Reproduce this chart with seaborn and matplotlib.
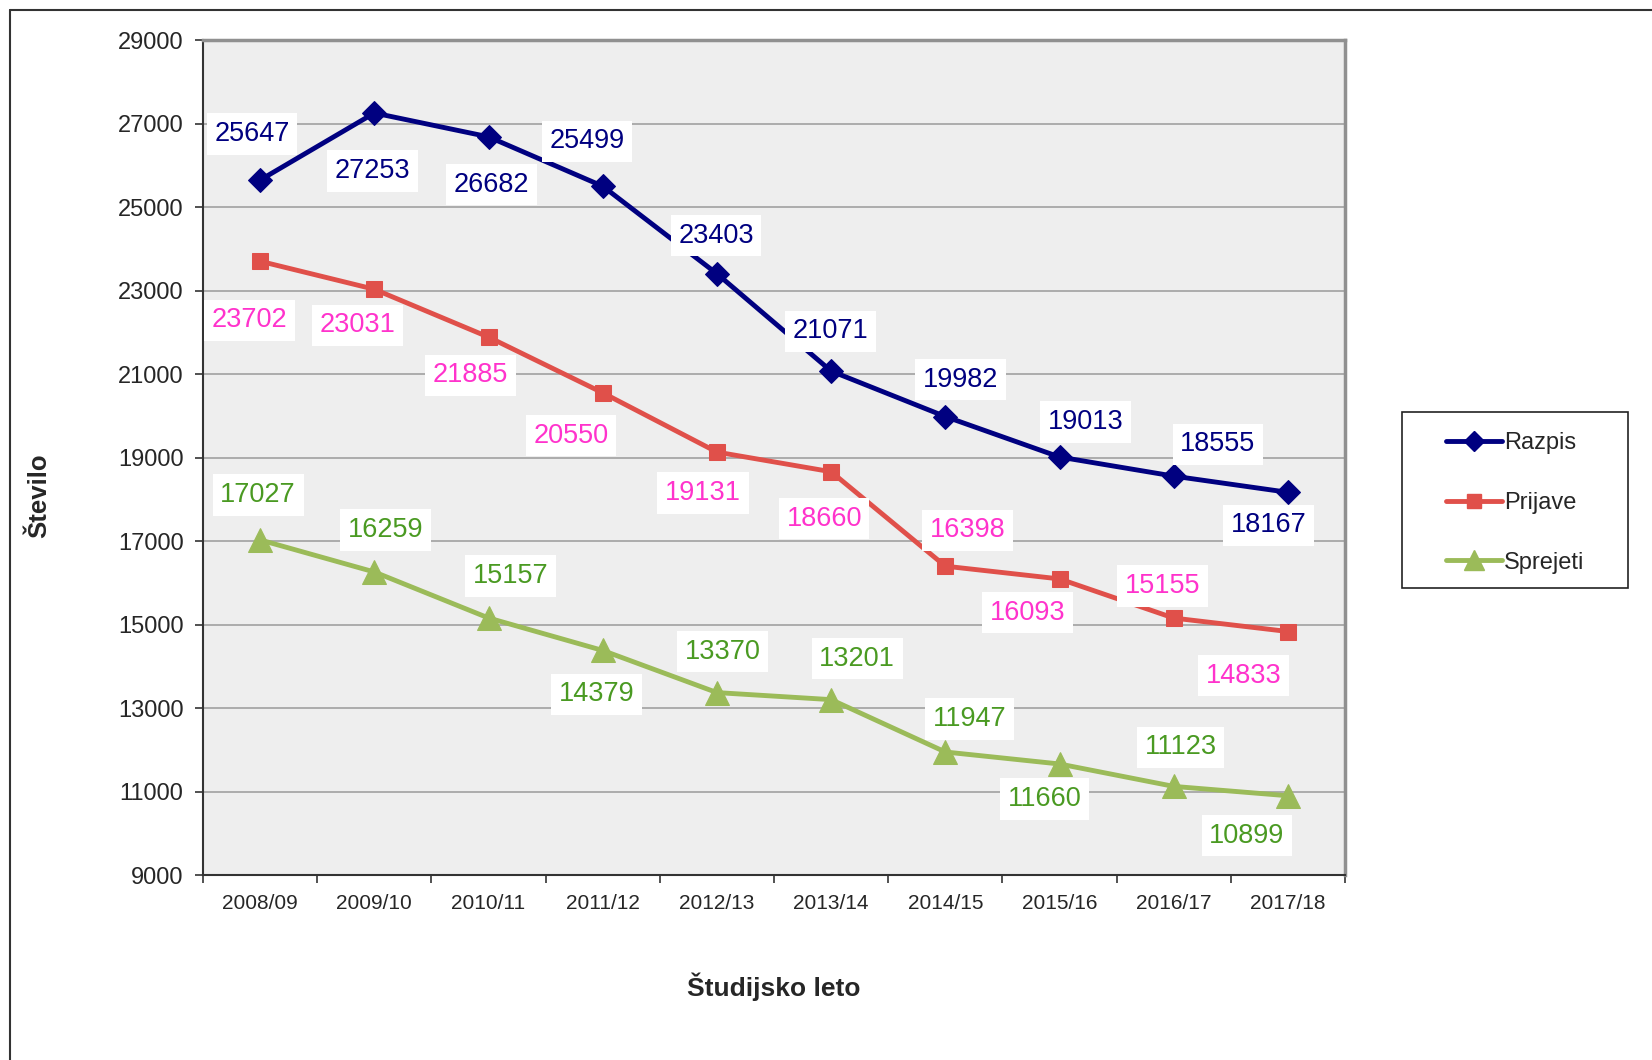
import matplotlib
matplotlib.use("Agg")
import matplotlib.pyplot as plt
import seaborn as sns
import numpy as np
from matplotlib.lines import Line2D
from matplotlib.patches import Rectangle

# data
years = ["2008/09", "2009/10", "2010/11", "2011/12", "2012/13",
         "2013/14", "2014/15", "2015/16", "2016/17", "2017/18"]
razpis = [25647, 27253, 26682, 25499, 23403, 21071, 19982, 19013, 18555, 18167]
prijave = [23702, 23031, 21885, 20550, 19131, 18660, 16398, 16093, 15155, 14833]
sprejeti = [17027, 16259, 15157, 14379, 13370, 13201, 11947, 11660, 11123, 10899]

# label offsets in pixels (dx, dy) relative to each point
razpis_off = [(-8, 46), (-2, -58), (3, -48), (-16, 45), (-1, 38), (-1, 40),
              (15, 37), (26, 35), (44, 32), (-19, -33)]
prijave_off = [(-11, -59), (-17, -36), (-18, -38), (-32, -43), (-14, -41),
               (-7, -47), (22, 36), (-32, -34), (-11, 32), (-44, -44)]
sprejeti_off = [(-2, 45), (11, 42), (22, 42), (-6, -44), (6, 41), (26, 41),
                (24, 33), (-15, -35), (7, 39), (-41, -40)]

sns.set_style("white")
plt.rcParams["font.family"] = ["Liberation Sans", "DejaVu Sans"]
narrow = ["Liberation Sans Narrow", "Liberation Sans", "DejaVu Sans"]

fig = plt.figure(figsize=(16.52, 10.60), dpi=100)
ax = fig.add_axes([0.1229, 0.1745, 0.6913, 0.7877])
ax.set_facecolor("#EEEEEE")

x = np.arange(len(years))
series = [
    ("Razpis", razpis, "#000080", "D", 12, "#000080", razpis_off),
    ("Prijave", prijave, "#E0504A", "s", 12, "#FF33CC", prijave_off),
    ("Sprejeti", sprejeti, "#9BBB59", "^", 17, "#4A9A22", sprejeti_off),
]

for name, vals, col, mk, ms, lcol, offs in series:
    sns.lineplot(x=x, y=vals, ax=ax, color=col, lw=3.5, marker=mk,
                 markersize=ms, markeredgecolor=col, label=name, zorder=3)
    for xi, v, (dx, dy) in zip(x, vals, offs):
        ax.annotate(str(v), (xi, v), xytext=(dx, dy), textcoords="offset pixels",
                    ha="center", va="center", fontsize=19.5, color=lcol, zorder=5,
                    bbox=dict(boxstyle="square,pad=0.28", fc="white", ec="none"))

ax.set_xlim(-0.5, 9.5)
ax.set_ylim(9000, 29000)
ax.set_yticks(range(9000, 29001, 2000))
ax.yaxis.grid(True, color="#A0A0A0", lw=1.2)
ax.set_axisbelow(True)

ax.set_xticks(x)
ax.set_xticklabels(years, fontsize=15, family=narrow)
ax.set_xticks(np.arange(-0.5, 10, 1), minor=True)
ax.tick_params(axis="x", which="major", length=0, pad=14)
ax.tick_params(axis="x", which="minor", length=6, width=1.2, direction="out", color="#333333")
ax.tick_params(axis="y", length=6, width=1.2, direction="out", color="#333333",
               labelsize=17, pad=8)
ax.tick_params(left=True, bottom=True, which="both")

for s in ["left", "bottom"]:
    ax.spines[s].set_color("#333333")
    ax.spines[s].set_linewidth(1.5)
for s in ["top", "right"]:
    ax.spines[s].set_color("#909090")
    ax.spines[s].set_linewidth(2.5)

ax.set_xlabel("")
ax.set_ylabel("")
fig.text(0.0236, 0.532, "Število", rotation=90, ha="center", va="center",
         fontsize=18.5, fontweight="bold")
fig.text(0.4685, 0.069, "Študijsko leto", ha="center", va="center",
         fontsize=19, fontweight="bold", family=narrow)

# legend: entries without frame, box drawn separately
ax.get_legend().remove()
handles = [Line2D([], [], color=c, lw=3.5, marker=m, markersize=ms * 0.85, markeredgecolor=c)
           for _, _, c, m, ms, _, _ in series]
fig.legend(handles, [s[0] for s in series], loc="upper left",
           bbox_to_anchor=(1446 / 1652, 1 - 432 / 1060), borderaxespad=0,
           borderpad=0, fontsize=17, frameon=False,
           labelspacing=1.6, handlelength=2.37, handletextpad=0.1)
fig.add_artist(Rectangle((1402 / 1652, 1 - 588 / 1060), 226 / 1652, 176 / 1060,
                         transform=fig.transFigure, fill=False,
                         edgecolor="#222222", lw=1.2))

# outer chart frame (top and left edges visible)
fig.add_artist(Line2D([10 / 1652, 1], [1 - 10 / 1060, 1 - 10 / 1060],
                      transform=fig.transFigure, color="#333333", lw=1.5))
fig.add_artist(Line2D([10 / 1652, 10 / 1652], [0, 1 - 10 / 1060],
                      transform=fig.transFigure, color="#333333", lw=1.5))

fig.savefig("out.png", dpi=100)
